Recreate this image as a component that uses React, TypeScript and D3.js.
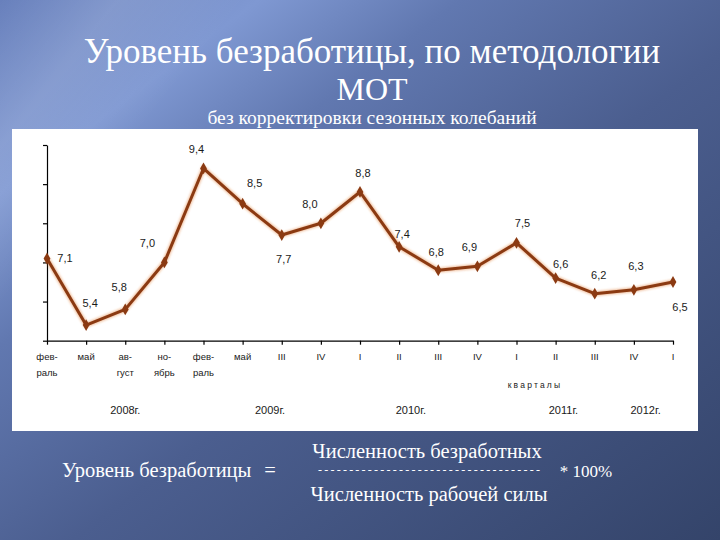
import React, { useEffect, useRef } from "react";
import * as d3 from "d3";

const periodTop = ["фев-", "май", "ав-", "но-", "фев-", "май", "III", "IV", "I", "II", "III", "IV", "I", "II", "III", "IV", "I"];
const periodBottom = ["раль", "", "густ", "ябрь", "раль", "", "", "", "", "", "", "", "", "", "", "", ""];
const values = [7.1, 5.4, 5.8, 7.0, 9.4, 8.5, 7.7, 8.0, 8.8, 7.4, 6.8, 6.9, 7.5, 6.6, 6.2, 6.3, 6.5];
const valueLabels = ["7,1", "5,4", "5,8", "7,0", "9,4", "8,5", "7,7", "8,0", "8,8", "7,4", "6,8", "6,9", "7,5", "6,6", "6,2", "6,3", "6,5"];
const yTicks = [5, 6, 7, 8, 9, 10];
const years = ["2008г.", "2009г.", "2010г.", "2011г.", "2012г."];
const yearAt = [2, 5.7, 9.3, 13.2, 15.3];

// label offsets in px relative to point (layout only)
const labelDx = [18, 4, -6, -17, -7, 12, 2, -11, 3, 3, -2, -8, 6, 5, 4, 2, 7];
const labelDy = [0, -22, -22, -19, -19, -21, 24, -19, -19, -13, -18, -19, -20, -14, -19, -24, 25];

const W = 720, H = 540;
const X0 = 47, X1 = 673, YB = 340.7, YT = 145;

export default function App() {
  const axRef = useRef<SVGGElement>(null);
  const x = d3.scaleLinear().domain([0, values.length - 1]).range([X0, X1]);
  const y = d3.scaleLinear().domain([5, 10]).range([YB, YT]);

  useEffect(() => {
    const g = d3.select(axRef.current);
    g.selectAll("*").remove();
    const ya = d3.axisLeft(y).tickValues(yTicks).tickSize(4).tickSizeOuter(0).tickFormat(() => "");
    g.append("g").attr("transform", `translate(${X0},0)`).call(ya as any)
      .call((s) => s.selectAll("path,line").attr("stroke", "#000").attr("stroke-width", 1.2));
    const xa = d3.axisBottom(x).tickValues(d3.range(values.length)).tickSize(4).tickSizeOuter(0).tickFormat(() => "");
    g.append("g").attr("transform", `translate(0,${YB})`).call(xa as any)
      .call((s) => s.selectAll("path,line").attr("stroke", "#000").attr("stroke-width", 1.2));
  }, []);

  const line = d3.line<number>().x((_, i) => x(i)).y((d) => y(d));
  const diamond = d3.symbol().type(d3.symbolDiamond).size(40)();

  const serif = "'Liberation Serif', 'DejaVu Serif', serif";
  const sans = "'Liberation Sans', Arial, sans-serif";

  return (
    <svg width={W} height={H} style={{ position: "absolute", left: 0, top: 0 }} xmlns="http://www.w3.org/2000/svg">
      <defs>
        <linearGradient id="bg" x1="0" y1="0" x2="1" y2="1">
          <stop offset="0" stopColor="#6880bc" />
          <stop offset="0.18" stopColor="#7f98d2" />
          <stop offset="0.32" stopColor="#6178b0" />
          <stop offset="0.55" stopColor="#4b5e8f" />
          <stop offset="1" stopColor="#34446a" />
        </linearGradient>
        <linearGradient id="streak" x1="0" y1="0" x2="1" y2="0.6">
          <stop offset="0" stopColor="#ffffff" stopOpacity="0" />
          <stop offset="0.12" stopColor="#ffffff" stopOpacity="0.12" />
          <stop offset="0.25" stopColor="#ffffff" stopOpacity="0" />
          <stop offset="1" stopColor="#ffffff" stopOpacity="0" />
        </linearGradient>
        <filter id="glow" x="-10%" y="-10%" width="120%" height="120%">
          <feGaussianBlur stdDeviation="1.2" />
        </filter>
      </defs>
      <rect x={0} y={0} width={W} height={H} fill="url(#bg)" />
      <rect x={0} y={0} width={W} height={H} fill="url(#streak)" />

      <text x={372} y={63} textAnchor="middle" fill="#ffffff" fontFamily={serif} fontSize={35}>
        Уровень безработицы, по методологии
      </text>
      <text x={372} y={100} textAnchor="middle" fill="#ffffff" fontFamily={serif} fontSize={32}>
        МОТ
      </text>
      <text x={372} y={124} textAnchor="middle" fill="#ffffff" fontFamily={serif} fontSize={19.5}>
        без корректировки сезонных колебаний
      </text>

      <rect x={12} y={129} width={686} height={302} fill="#ffffff" />

      <g ref={axRef} />

      <path d={line(values) || ""} fill="none" stroke="#e07a30" strokeWidth={5} strokeOpacity={0.45} filter="url(#glow)" />
      <path d={line(values) || ""} fill="none" stroke="#8b3a12" strokeWidth={3} strokeLinejoin="round" />
      {values.map((v, i) => (
        <path key={"m" + i} d={diamond || ""} transform={`translate(${x(i)},${y(v)})`} fill="#8b3a12" />
      ))}
      {values.map((v, i) => (
        <text key={"l" + i} x={x(i) + labelDx[i]} y={y(v) + labelDy[i]} dy="0.35em" textAnchor="middle"
          fontFamily={sans} fontSize={11} fill="#1a1a1a">
          {valueLabels[i]}
        </text>
      ))}

      {periodTop.map((t, i) => (
        <text key={"pt" + i} x={x(i)} y={360} textAnchor="middle" fontFamily={sans} fontSize={9.5} fill="#1a1a1a">{t}</text>
      ))}
      {periodBottom.map((t, i) => (
        <text key={"pb" + i} x={x(i)} y={376} textAnchor="middle" fontFamily={sans} fontSize={9.5} fill="#1a1a1a">{t}</text>
      ))}
      <text x={535} y={388} textAnchor="middle" fontFamily={sans} fontSize={8.5} letterSpacing={2.2} fill="#1a1a1a">кварталы</text>
      {years.map((t, i) => (
        <text key={"y" + i} x={x(yearAt[i])} y={414} textAnchor="middle" fontFamily={sans} fontSize={11} fill="#1a1a1a">{t}</text>
      ))}

      <text x={62} y={477} fontFamily={serif} fontSize={20.5} fill="#ffffff">Уровень безработицы</text>
      <text x={270} y={477} textAnchor="middle" fontFamily={serif} fontSize={20.5} fill="#ffffff">=</text>
      <text x={427} y={458} textAnchor="middle" fontFamily={serif} fontSize={20.5} fill="#ffffff">Численность безработных</text>
      <text x={429} y={474} textAnchor="middle" fontFamily={serif} fontSize={12} fill="#ffffff" textLength={222}>------------------------------------</text>
      <text x={586} y={477} textAnchor="middle" fontFamily={serif} fontSize={17} fill="#ffffff">* 100%</text>
      <text x={429} y={501} textAnchor="middle" fontFamily={serif} fontSize={20.5} fill="#ffffff">Численность рабочей силы</text>
    </svg>
  );
}
